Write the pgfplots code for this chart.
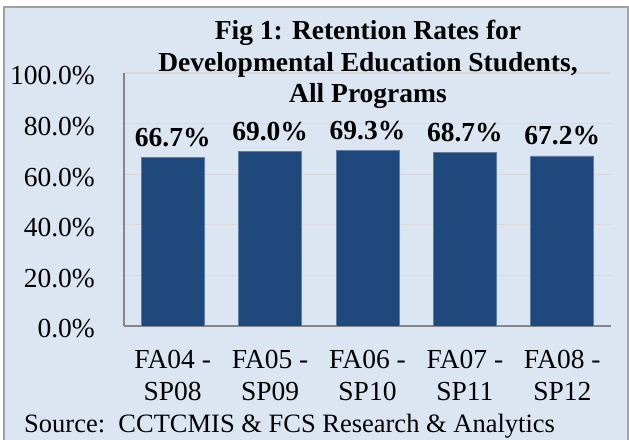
\documentclass[border=0pt]{standalone}
\usepackage{pgfplots}
\pgfplotsset{compat=1.18}
\usepackage{fontspec}
\setmainfont{Liberation Serif}
\definecolor{bgc}{RGB}{220,230,242}
\definecolor{barc}{RGB}{31,73,125}
\definecolor{baredge}{RGB}{95,125,170}
\definecolor{gridc}{RGB}{217,217,217}
\definecolor{axc}{RGB}{134,134,134}
\definecolor{borderc}{RGB}{160,160,160}
\begin{document}
\begin{tikzpicture}
\path[use as bounding box] (0,0) rectangle (629bp,440bp);
\fill[bgc] (4bp,-3bp) rectangle (628bp,433bp);
\draw[borderc, line width=1.3bp] (4bp,-3bp) rectangle (628bp,433bp);
\begin{axis}[
  at={(124bp,114bp)}, anchor=south west,
  scale only axis, width=487bp, height=253bp,
  xmin=-0.5, xmax=4.5, ymin=0, ymax=100,
  axis lines*=left,
  axis line style={-, draw=axc, line width=1.3bp},
  major tick length=0pt,
  ymajorgrids, grid style={gridc, line width=1.3bp},
  ytick={0,20,40,60,80,100},
  yticklabels={0.0\%,20.0\%,40.0\%,60.0\%,80.0\%,100.0\%},
  yticklabel style={inner sep=0pt, anchor=east, xshift=-29bp, yshift=-3bp},
  xtick={0,1,2,3,4},
  xticklabels={FA04 -\\SP08,FA05 -\\SP09,FA06 -\\SP10,FA07 -\\SP11,FA08 -\\SP12},
  xticklabel style={align=center, anchor=north, inner sep=0pt, yshift=-24bp},
  tick label style={font=\fontsize{27.5bp}{32bp}\selectfont},
  ybar, bar width=63bp,
  nodes near coords={\pgfmathprintnumber[assume math mode=true, fixed, fixed zerofill, precision=1]{\pgfplotspointmeta}\%},
  every node near coord/.append style={font=\fontsize{27.5bp}{32bp}\selectfont\bfseries, anchor=base, inner sep=0pt, yshift=11bp},
]
\addplot[fill=barc, draw=baredge, line width=0.8bp] coordinates {(0,66.7) (1,69.0) (2,69.3) (3,68.7) (4,67.2)};
\end{axis}
\begin{scope}[every node/.style={font=\fontsize{27.5bp}{32bp}\selectfont\bfseries, inner sep=0pt, anchor=base}]
\node at (368bp,400bp) {Fig 1: Retention Rates for};
\node at (368bp,368bp) {Developmental Education Students,};
\node at (368bp,337bp) {All Programs};
\end{scope}
\node[font=\fontsize{26.5bp}{32bp}\selectfont, inner sep=0pt, anchor=base west] at (24bp,8bp) {Source:\ \ CCTCMIS \& FCS Research \& Analytics};
\end{tikzpicture}
\end{document}
